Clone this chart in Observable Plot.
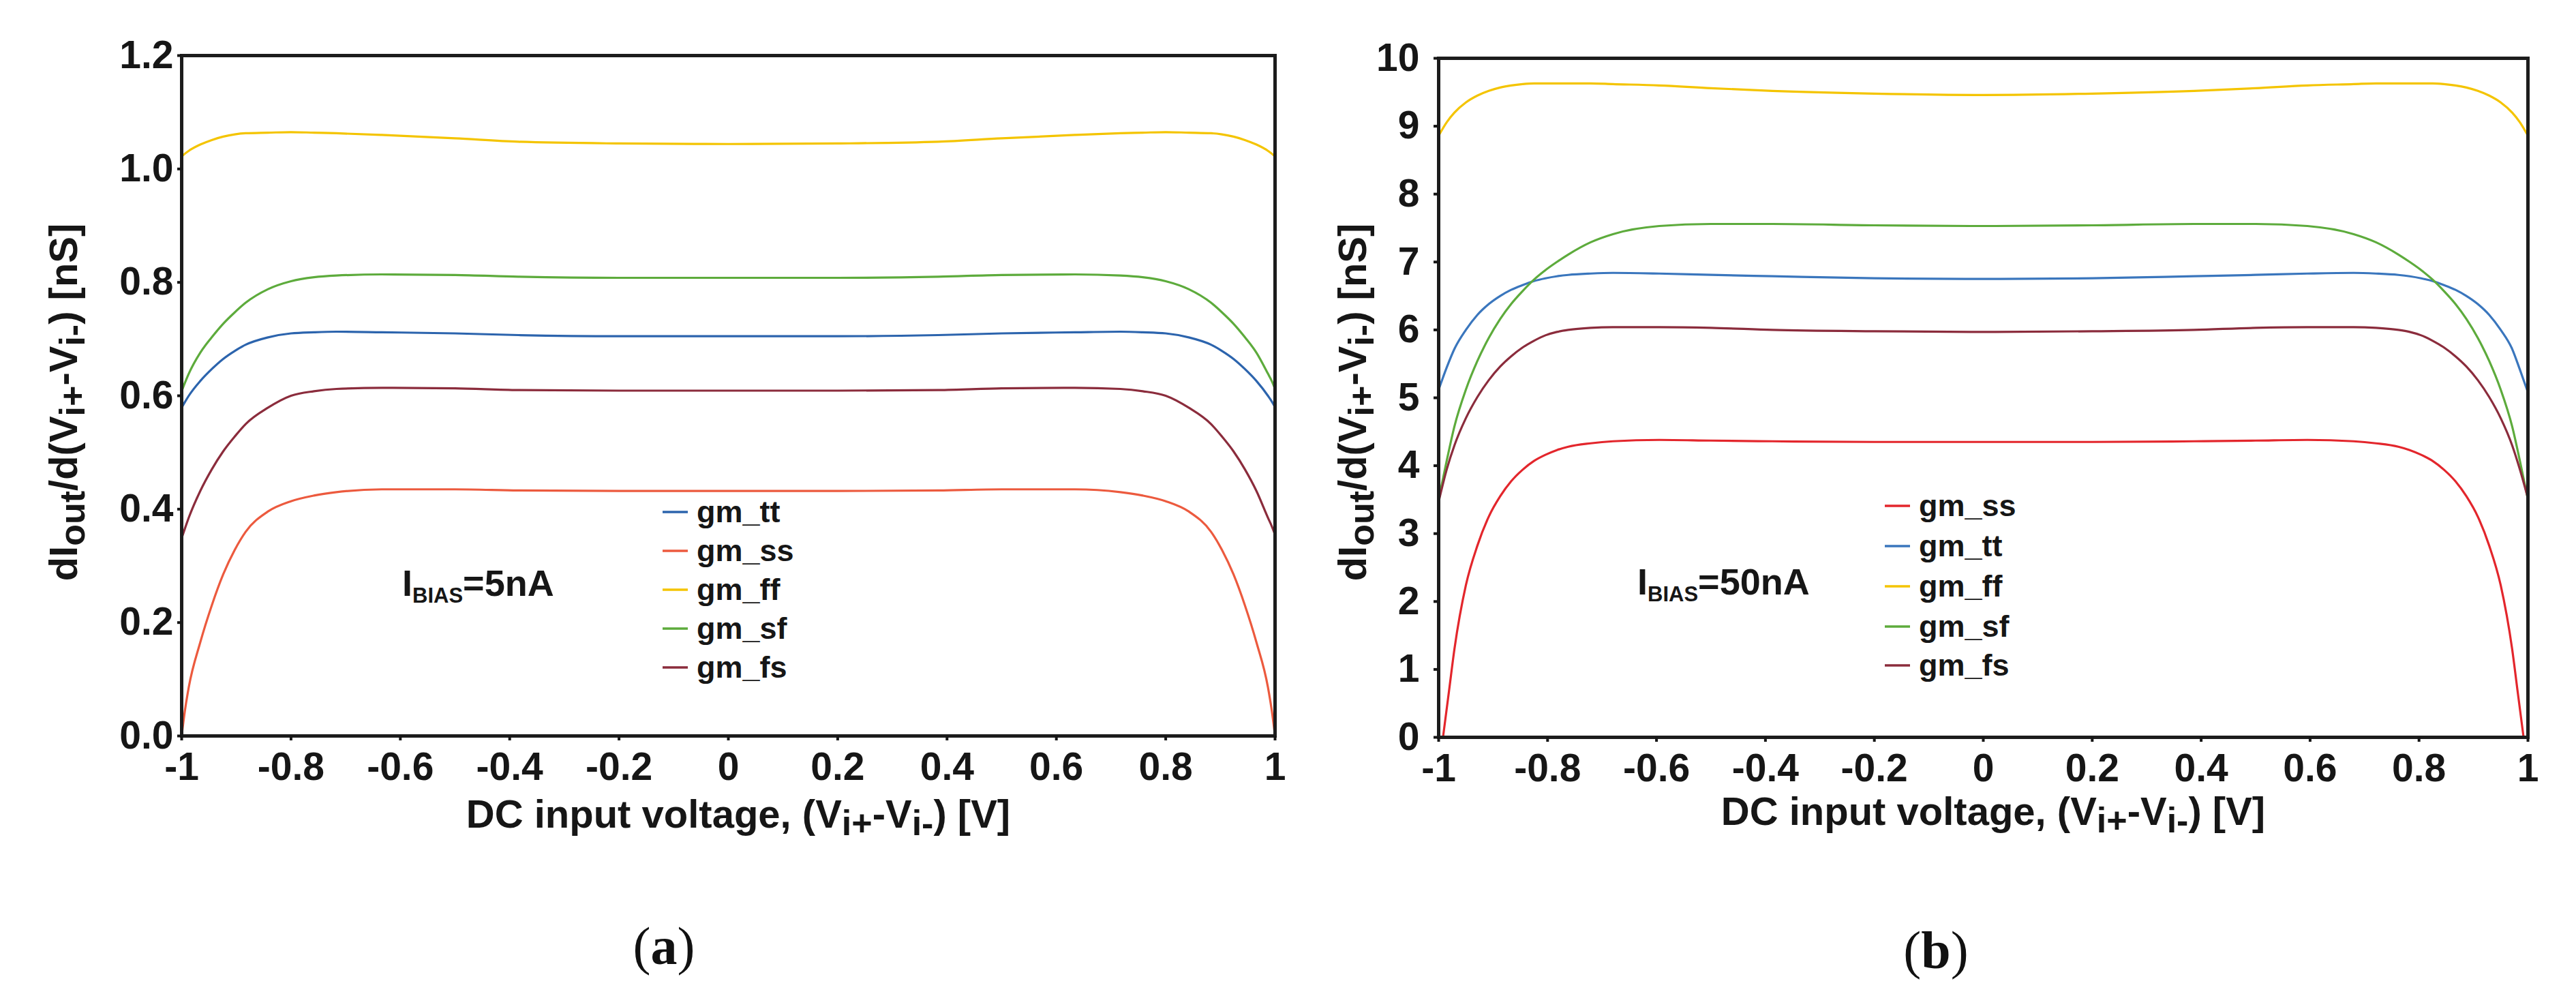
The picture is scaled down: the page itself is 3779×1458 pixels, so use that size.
<!DOCTYPE html>
<html>
<head>
<meta charset="utf-8">
<script src="https://cdn.jsdelivr.net/npm/d3@7"></script>
<script src="https://cdn.jsdelivr.net/npm/@observablehq/plot@0.6"></script>
<style>
  html, body { margin: 0; padding: 0; background: #fff; }
  #page { position: relative; width: 3779px; height: 1458px; background: #fff; overflow: hidden; }
  .panel { position: absolute; top: 0; }
  #captions { position: absolute; left: 0; top: 0; pointer-events: none; }
</style>
</head>
<body>
<div id="page">
  <div class="panel" id="pa" style="left:0px"></div>
  <div class="panel" id="pb" style="left:1890px"></div>
</div>
<script>
// ---------- data ----------
const xTicks = [-1, -0.8, -0.6, -0.4, -0.2, 0, 0.2, 0.4, 0.6, 0.8, 1];
const yTicksA = [0, 0.2, 0.4, 0.6, 0.8, 1.0, 1.2];
const yTicksB = [0, 1, 2, 3, 4, 5, 6, 7, 8, 9, 10];

// (a) IBIAS = 5 nA
const x5 = [-1, -0.994, -0.987, -0.966, -0.945, -0.924, -0.903, -0.883, -0.842, -0.8, -0.758, -0.717, -0.634, -0.5, -0.384, -0.2, 0, 0.2, 0.384, 0.5, 0.634, 0.717, 0.758, 0.8, 0.842, 0.883, 0.903, 0.924, 0.945, 0.966, 0.987, 0.994, 1];
const ss5 = [0.0, 0.045, 0.086, 0.165, 0.23, 0.285, 0.328, 0.36, 0.396, 0.414, 0.424, 0.43, 0.435, 0.435, 0.433, 0.432, 0.432, 0.432, 0.433, 0.435, 0.435, 0.43, 0.424, 0.414, 0.396, 0.36, 0.328, 0.285, 0.23, 0.165, 0.086, 0.045, 0.0];
const fs5 = [0.349, 0.366, 0.385, 0.432, 0.47, 0.502, 0.528, 0.55, 0.579, 0.60, 0.608, 0.612, 0.614, 0.613, 0.61, 0.609, 0.609, 0.609, 0.61, 0.613, 0.614, 0.612, 0.608, 0.60, 0.579, 0.55, 0.528, 0.502, 0.47, 0.432, 0.385, 0.37, 0.355];
const tt5 = [0.579, 0.589, 0.600, 0.626, 0.647, 0.665, 0.679, 0.69, 0.703, 0.71, 0.712, 0.713, 0.712, 0.71, 0.707, 0.705, 0.705, 0.705, 0.707, 0.71, 0.712, 0.713, 0.712, 0.71, 0.703, 0.69, 0.679, 0.665, 0.647, 0.626, 0.600, 0.59, 0.58];
const sf5 = [0.608, 0.623, 0.639, 0.676, 0.703, 0.727, 0.747, 0.764, 0.788, 0.802, 0.809, 0.812, 0.814, 0.813, 0.81, 0.808, 0.808, 0.808, 0.81, 0.813, 0.814, 0.812, 0.809, 0.802, 0.788, 0.764, 0.747, 0.727, 0.703, 0.676, 0.639, 0.626, 0.612];
const ff5 = [1.022, 1.027, 1.032, 1.043, 1.051, 1.057, 1.061, 1.063, 1.064, 1.065, 1.064, 1.063, 1.060, 1.054, 1.048, 1.045, 1.044, 1.045, 1.048, 1.054, 1.060, 1.063, 1.064, 1.065, 1.064, 1.063, 1.061, 1.057, 1.051, 1.043, 1.032, 1.027, 1.022];

// (b) IBIAS = 50 nA
const x50 = [-1, -0.985, -0.971, -0.95, -0.929, -0.908, -0.887, -0.867, -0.846, -0.825, -0.804, -0.783, -0.762, -0.721, -0.68, -0.595, -0.5, -0.387, -0.2, 0, 0.2, 0.387, 0.5, 0.595, 0.68, 0.721, 0.762, 0.783, 0.804, 0.825, 0.846, 0.867, 0.887, 0.908, 0.929, 0.95, 0.971, 0.985, 1];
const tt50 = [5.12, 5.45, 5.72, 6.0, 6.22, 6.38, 6.5, 6.59, 6.66, 6.72, 6.76, 6.79, 6.81, 6.83, 6.84, 6.83, 6.81, 6.79, 6.76, 6.75, 6.76, 6.79, 6.81, 6.83, 6.84, 6.83, 6.81, 6.79, 6.76, 6.72, 6.66, 6.59, 6.5, 6.38, 6.22, 6.0, 5.72, 5.42, 5.08];
const ff50 = [8.86, 9.06, 9.2, 9.35, 9.45, 9.52, 9.57, 9.6, 9.62, 9.63, 9.63, 9.63, 9.63, 9.63, 9.62, 9.6, 9.56, 9.52, 9.48, 9.46, 9.48, 9.52, 9.56, 9.6, 9.62, 9.63, 9.63, 9.63, 9.63, 9.63, 9.62, 9.6, 9.57, 9.52, 9.45, 9.35, 9.2, 9.06, 8.86];
const sf50 = [3.5, 4.08, 4.58, 5.12, 5.54, 5.88, 6.16, 6.38, 6.57, 6.74, 6.88, 7.0, 7.11, 7.29, 7.41, 7.53, 7.56, 7.56, 7.54, 7.53, 7.54, 7.56, 7.56, 7.53, 7.41, 7.29, 7.11, 7.0, 6.88, 6.74, 6.57, 6.38, 6.16, 5.88, 5.54, 5.12, 4.58, 4.08, 3.5];
const fs50 = [3.47, 3.95, 4.3, 4.7, 5.01, 5.26, 5.46, 5.61, 5.74, 5.84, 5.92, 5.97, 6.0, 6.03, 6.04, 6.04, 6.03, 6.0, 5.98, 5.97, 5.98, 6.0, 6.03, 6.04, 6.04, 6.03, 6.0, 5.97, 5.92, 5.84, 5.74, 5.61, 5.46, 5.26, 5.01, 4.7, 4.3, 3.95, 3.52];
const x50ss = [-0.992, -0.981, -0.971, -0.95, -0.929, -0.908, -0.887, -0.867, -0.846, -0.825, -0.804, -0.783, -0.762, -0.721, -0.68, -0.595, -0.5, -0.387, -0.2, 0, 0.2, 0.387, 0.5, 0.595, 0.68, 0.721, 0.762, 0.783, 0.804, 0.825, 0.846, 0.867, 0.887, 0.908, 0.929, 0.95, 0.971, 0.981, 0.992];
const ss50 = [0, 0.68, 1.3, 2.24, 2.82, 3.25, 3.55, 3.77, 3.94, 4.07, 4.16, 4.23, 4.28, 4.33, 4.36, 4.38, 4.37, 4.36, 4.35, 4.35, 4.35, 4.36, 4.37, 4.38, 4.36, 4.33, 4.28, 4.23, 4.16, 4.07, 3.94, 3.77, 3.55, 3.25, 2.82, 2.24, 1.3, 0.68, 0];

const legendA = ["gm_tt", "gm_ss", "gm_ff", "gm_sf", "gm_fs"];
const legendB = ["gm_ss", "gm_tt", "gm_ff", "gm_sf", "gm_fs"];
const colorsA = { gm_tt: "#2c64ad", gm_ss: "#ec5a3e", gm_ff: "#f4c400", gm_sf: "#5dab3c", gm_fs: "#8b2c3c" };
const colorsB = { gm_tt: "#3a76bd", gm_ss: "#e3262c", gm_ff: "#f4c400", gm_sf: "#5dab3c", gm_fs: "#8b2c3c" };

// ---------- helpers ----------
const FONT = '"Liberation Sans", Arial, Helvetica, sans-serif';

function rich(textSel, parts, subShift) {
  let shifted = false;
  parts.forEach(([t, sub, size]) => {
    const ts = textSel.append("tspan").text(t);
    if (sub && !shifted) { ts.attr("dy", subShift); shifted = true; }
    else if (!sub && shifted) { ts.attr("dy", -subShift); shifted = false; }
    if (size) ts.attr("font-size", size);
  });
}

function panel(el, cfg) {
  const data = cfg.series.flatMap(s => s.xs.map((x, i) => ({ x, y: s.ys[i], name: s.name })));
  const names = Object.keys(cfg.colors);
  const chart = Plot.plot({
    width: cfg.width, height: 1300,
    marginLeft: cfg.ml, marginRight: cfg.mr, marginTop: cfg.mt, marginBottom: cfg.mb,
    style: { fontFamily: FONT, fontSize: "57px", fontWeight: "bold", color: "#161616", background: "white", overflow: "visible" },
    x: { domain: [-1, 1] },
    y: { domain: cfg.yDomain },
    color: { domain: names, range: names.map(n => cfg.colors[n]) },
    marks: [
      Plot.line(data, { x: "x", y: "y", z: "name", stroke: "name", strokeWidth: 3.2, curve: "monotone-x" }),
      Plot.frame({ stroke: "#1c1c1c", strokeWidth: 5 }),
      Plot.axisX({ ticks: xTicks, tickFormat: d => String(d), tickSize: 7, tickPadding: 17, strokeWidth: 4, label: null }),
      Plot.axisY({ ticks: cfg.yTicks, tickFormat: cfg.yFormat, tickSize: cfg.yts, tickPadding: cfg.ytp, strokeWidth: 4, label: null })
    ]
  });
  const svg = d3.select(chart);
  const g = svg.append("g").attr("font-family", FONT).attr("font-weight", "bold")
    .attr("fill", "#161616").attr("text-anchor", "start");

  // y-axis label
  const yl = g.append("text").attr("font-size", 58).attr("text-anchor", "middle")
    .attr("transform", `translate(${cfg.ylx},590) rotate(-90)`);
  rich(yl, [["dI"], ["out", true, 52], ["/d(V"], ["i+", true, 52], ["-V"], ["i-", true, 52], [") [nS]"]], 11);

  // x-axis label
  const xl = g.append("text").attr("font-size", 58).attr("text-anchor", "middle")
    .attr("x", cfg.xlx).attr("y", cfg.xly);
  rich(xl, [["DC input voltage, (V"], ["i+", true, 52], ["-V"], ["i-", true, 52], [") [V]"]], 11);

  // annotation
  const an = g.append("text").attr("font-size", 54).attr("text-anchor", "start").attr("x", cfg.anx).attr("y", cfg.any);
  rich(an, [["I"], ["BIAS", true, 31], [cfg.anText]], 10);

  // legend
  cfg.legend.forEach((n, i) => {
    const y = cfg.legY[i];
    g.append("line").attr("x1", cfg.legX).attr("x2", cfg.legX + 37).attr("y1", y).attr("y2", y)
      .attr("stroke", cfg.colors[n]).attr("stroke-width", 3.5);
    g.append("text").attr("text-anchor", "start").attr("x", cfg.legX + 50).attr("y", y + 15)
      .attr("font-size", 45).text(n);
  });

  el.appendChild(chart);
}

panel(document.getElementById("pa"), {
  width: 1890, ml: 266, mr: 20, mt: 81, mb: 221,
  yDomain: [0, 1.2], yTicks: yTicksA, yFormat: d3.format(".1f"), yts: 6, ytp: 6,
  colors: colorsA, legend: legendA,
  series: [
    { name: "gm_tt", xs: x5, ys: tt5 },
    { name: "gm_ss", xs: x5, ys: ss5 },
    { name: "gm_ff", xs: x5, ys: ff5 },
    { name: "gm_sf", xs: x5, ys: sf5 },
    { name: "gm_fs", xs: x5, ys: fs5 }
  ],
  ylx: 113, xlx: 1083, xly: 1214,
  anx: 590, any: 874, anText: "=5nA",
  legX: 972, legY: [751, 808, 865, 922, 979]
});

panel(document.getElementById("pb"), {
  width: 1889, ml: 220, mr: 71, mt: 85, mb: 219,
  yDomain: [0, 10], yTicks: yTicksB, yFormat: d => String(d), yts: 7, ytp: 21,
  colors: colorsB, legend: legendB,
  series: [
    { name: "gm_ss", xs: x50ss, ys: ss50 },
    { name: "gm_tt", xs: x50, ys: tt50 },
    { name: "gm_ff", xs: x50, ys: ff50 },
    { name: "gm_sf", xs: x50, ys: sf50 },
    { name: "gm_fs", xs: x50, ys: fs50 }
  ],
  ylx: 114, xlx: 1034, xly: 1210,
  anx: 512, any: 872, anText: "=50nA",
  legX: 875, legY: [742, 801, 860, 919, 976]
});

// sub-figure captions
const cap = d3.select("#page").append("svg").attr("id", "captions").attr("width", 3779).attr("height", 1458);
[["a", 974, 1414], ["b", 2840, 1420]].forEach(([t, x, y]) => {
  const tx = cap.append("text").attr("x", x).attr("y", y).attr("text-anchor", "middle")
    .attr("font-family", '"Liberation Serif", "Times New Roman", serif').attr("font-size", 78).attr("fill", "#111");
  tx.append("tspan").text("(");
  tx.append("tspan").attr("font-weight", "bold").text(t);
  tx.append("tspan").text(")");
});
</script>
</body>
</html>
